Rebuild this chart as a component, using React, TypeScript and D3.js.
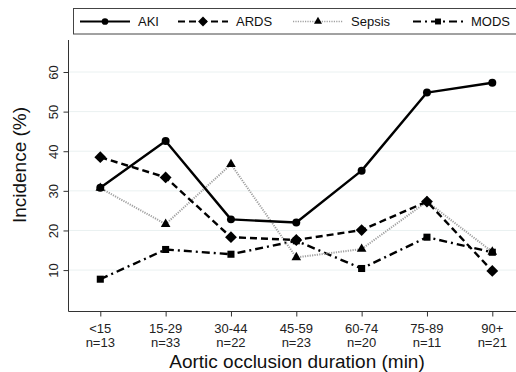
import React, { useEffect, useRef } from 'react';
import * as d3 from 'd3';

const categories = ['<15', '15-29', '30-44', '45-59', '60-74', '75-89', '90+'];
const counts = ['n=13', 'n=33', 'n=22', 'n=23', 'n=20', 'n=11', 'n=21'];
const yTicks = [10, 20, 30, 40, 50, 60];

const aki = [30.8, 42.6, 22.8, 22.0, 35.1, 54.8, 57.3];
const ards = [38.5, 33.4, 18.3, 17.6, 20.1, 27.3, 9.8];
const sepsis = [30.7, 21.6, 36.7, 13.2, 15.3, 27.3, 14.6];
const mods = [7.7, 15.2, 14.0, 17.4, 10.4, 18.3, 14.5];

const diamond = {
  draw(context, size) {
    const r = Math.sqrt(size / 2);
    context.moveTo(0, -r);
    context.lineTo(r, 0);
    context.lineTo(0, r);
    context.lineTo(-r, 0);
    context.closePath();
  },
};

const seriesList = [
  { name: 'AKI', values: aki, dash: null, color: '#000', width: 2.4, symbol: d3.symbolCircle, size: 50 },
  { name: 'ARDS', values: ards, dash: '7,4', color: '#000', width: 2.4, symbol: diamond, size: 70 },
  { name: 'Sepsis', values: sepsis, dash: '1.2,1.2', color: '#a0a0a0', width: 2, symbol: d3.symbolTriangle, size: 40, markerColor: '#000' },
  { name: 'MODS', values: mods, dash: '8,4,2,4', color: '#000', width: 2.4, symbol: d3.symbolSquare, size: 50 },
];

const App = () => {
  const svgRef = useRef(null);

  useEffect(() => {
    const svg = d3.select(svgRef.current);
    svg.selectAll('*').remove();

    const width = 516;
    const height = 372;
    const font = '"Liberation Sans", Arial, sans-serif';

    const x = d3.scalePoint().domain(categories).range([100.3, 492.3]);
    const y = d3.scaleLinear().domain([0, 60]).range([309.7, 72]);

    svg.attr('width', width).attr('height', height).style('font-family', font);
    svg.append('rect').attr('width', width).attr('height', height).attr('fill', '#fff');

    // gridlines
    svg.append('g')
      .selectAll('line')
      .data(yTicks)
      .enter()
      .append('line')
      .attr('x1', 69)
      .attr('x2', width)
      .attr('y1', d => y(d))
      .attr('y2', d => y(d))
      .attr('stroke', '#eaf1f1')
      .attr('stroke-width', 1);

    // y axis
    const yAxis = svg.append('g')
      .attr('transform', 'translate(68.5,0)')
      .call(d3.axisLeft(y).tickValues(yTicks).tickSize(5).tickFormat(d3.format('d')));
    yAxis.select('.domain').attr('d', `M0,40V311.5`).attr('stroke', '#333');
    yAxis.selectAll('.tick line').attr('stroke', '#333');
    yAxis.selectAll('.tick text')
      .attr('transform', 'rotate(-90)')
      .attr('x', 0)
      .attr('y', -11)
      .attr('dy', 0)
      .attr('text-anchor', 'middle')
      .style('font-size', '13px')
      .style('font-family', font)
      .attr('fill', '#222');

    // x axis
    const xAxis = svg.append('g')
      .attr('transform', 'translate(0,311.5)')
      .call(d3.axisBottom(x).tickSize(5).tickFormat(() => ''));
    xAxis.select('.domain').attr('d', `M68.5,0H${width}`).attr('stroke', '#333');
    xAxis.selectAll('.tick line').attr('stroke', '#333');

    const xLabels = svg.append('g');
    categories.forEach((c, i) => {
      const t = xLabels.append('text')
        .attr('x', x(c))
        .attr('text-anchor', 'middle')
        .style('font-size', '13px')
        .attr('fill', '#222');
      t.append('tspan').attr('x', x(c)).attr('y', 333).text(c);
      t.append('tspan').attr('x', x(c)).attr('y', 347).text(counts[i]);
    });

    svg.append('text')
      .attr('x', 297)
      .attr('y', 368)
      .attr('text-anchor', 'middle')
      .style('font-size', '19px')
      .attr('fill', '#111')
      .text('Aortic occlusion duration (min)');

    svg.append('text')
      .attr('transform', 'rotate(-90)')
      .attr('x', -165)
      .attr('y', 26)
      .attr('text-anchor', 'middle')
      .style('font-size', '19px')
      .attr('fill', '#111')
      .text('Incidence (%)');

    // series
    const line = d3.line().x((d, i) => x(categories[i])).y(d => y(d));
    seriesList.slice().reverse().forEach(s => {
      svg.append('path')
        .datum(s.values)
        .attr('d', line)
        .attr('fill', 'none')
        .attr('stroke', s.color)
        .attr('stroke-width', s.width)
        .attr('stroke-dasharray', s.dash)
        .attr('stroke-linejoin', 'round');
      svg.append('g')
        .selectAll('path')
        .data(s.values)
        .enter()
        .append('path')
        .attr('transform', (d, i) => `translate(${x(categories[i])},${y(d)})`)
        .attr('d', d3.symbol().type(s.symbol).size(s.size))
        .attr('fill', s.markerColor || s.color);
    });

    // legend
    const legend = svg.append('g');
    legend.append('rect')
      .attr('x', 73.5)
      .attr('y', 8.5)
      .attr('width', 460)
      .attr('height', 25.5)
      .attr('fill', '#fff')
      .attr('stroke', '#444')
      .attr('stroke-width', 1);
    const legendX = [80, 178, 293, 413];
    seriesList.forEach((s, i) => {
      const lx = legendX[i];
      const ly = 21.5;
      legend.append('line')
        .attr('x1', lx)
        .attr('x2', lx + 50)
        .attr('y1', ly)
        .attr('y2', ly)
        .attr('stroke', s.color)
        .attr('stroke-width', s.width * 0.85)
        .attr('stroke-dasharray', s.dash);
      legend.append('path')
        .attr('transform', `translate(${lx + 25},${ly})`)
        .attr('d', d3.symbol().type(s.symbol).size(s.size * 0.7))
        .attr('fill', s.markerColor || s.color);
      legend.append('text')
        .attr('x', lx + 58)
        .attr('y', ly + 4.5)
        .style('font-size', '13px')
        .attr('fill', '#111')
        .text(s.name);
    });
  }, []);

  return (
    <div style={{ position: 'absolute', left: 0, top: 0 }}>
      <svg ref={svgRef}></svg>
    </div>
  );
};

export default App;
